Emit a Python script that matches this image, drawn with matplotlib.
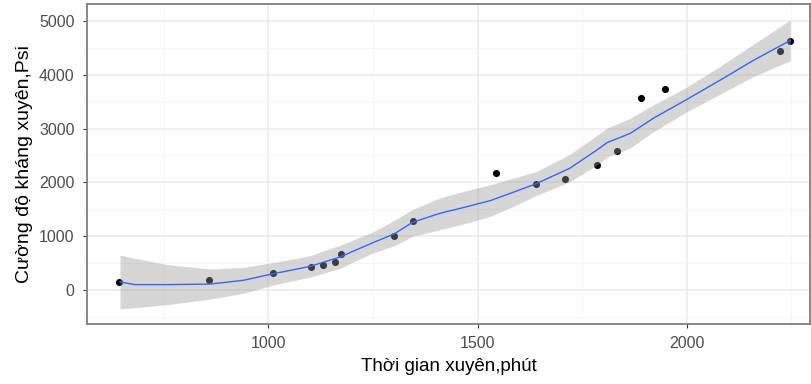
import numpy as np
import matplotlib
matplotlib.use('Agg')
import matplotlib.pyplot as plt
from matplotlib.ticker import MultipleLocator

plt.rcParams['font.family'] = ['Liberation Sans', 'DejaVu Sans']

# measured points
thoi_gian = [643, 858, 1011, 1102, 1130, 1158, 1173, 1301, 1345, 1543,
             1640, 1708, 1786, 1834, 1891, 1948, 2223, 2248]
cuong_do = [143, 186, 310, 433, 465, 526, 663, 1009, 1282, 2169,
            1976, 2063, 2329, 2578, 3575, 3736, 4436, 4628]

# loess smooth
smooth_x = [645, 680, 760, 860, 940, 1010, 1075, 1100, 1170, 1250, 1300, 1345, 1410,
            1465, 1530, 1590, 1640, 1720, 1785, 1810, 1865, 1920, 2000, 2080, 2160, 2248]
smooth_y = [150, 100, 100, 110, 180, 300, 400, 440, 610, 880, 1040, 1260, 1425,
            1530, 1660, 1830, 1975, 2260, 2600, 2740, 2910, 3190, 3540, 3900, 4270, 4640]
smooth_hi = [650, 590, 470, 390, 420, 510, 600, 640, 830, 1080, 1290, 1500, 1710,
             1830, 1955, 2090, 2200, 2520, 2870, 3010, 3190, 3440, 3770, 4160, 4570, 5020]
smooth_lo = [-350, -330, -270, -170, -60, 90, 200, 240, 400, 690, 820, 1000, 1120,
             1225, 1365, 1570, 1755, 2010, 2320, 2470, 2640, 2940, 3310, 3640, 3970, 4260]

fig = plt.figure(figsize=(8.11, 3.84), dpi=100)
ax = fig.add_axes([87/811, 1-324/384, (810-87)/811, 320/384])

ax.scatter(thoi_gian, cuong_do, s=26, color='black', zorder=2, linewidths=0)
ax.fill_between(smooth_x, smooth_lo, smooth_hi, color='#999999', alpha=0.4,
                linewidth=0, zorder=3)
ax.plot(smooth_x, smooth_y, color='#3366FF', lw=1.0, zorder=4)

ax.set_xlim(566, 2295)
ax.set_ylim(-632, 5316)
ax.xaxis.set_major_locator(MultipleLocator(500))
ax.xaxis.set_minor_locator(MultipleLocator(250))
ax.yaxis.set_major_locator(MultipleLocator(1000))
ax.yaxis.set_minor_locator(MultipleLocator(500))

ax.grid(which='major', color='#EBEBEB', lw=1.1, zorder=0)
ax.grid(which='minor', color='#F5F5F5', lw=0.6, zorder=0)
ax.set_axisbelow(True)

for s in ax.spines.values():
    s.set_color('#7F7F7F')
    s.set_linewidth(1.3)

ax.tick_params(which='major', length=3, width=0.8, color='#333333',
               labelsize=11.5, labelcolor='#4D4D4D', pad=6)
ax.tick_params(which='minor', length=0)

ax.set_xlabel('Thời gian xuyên,phút', fontsize=13.5, color='black', labelpad=5)
ax.set_ylabel('Cường độ kháng xuyên,Psi', fontsize=14, color='black', labelpad=4)

fig.savefig('out.png', dpi=100)
